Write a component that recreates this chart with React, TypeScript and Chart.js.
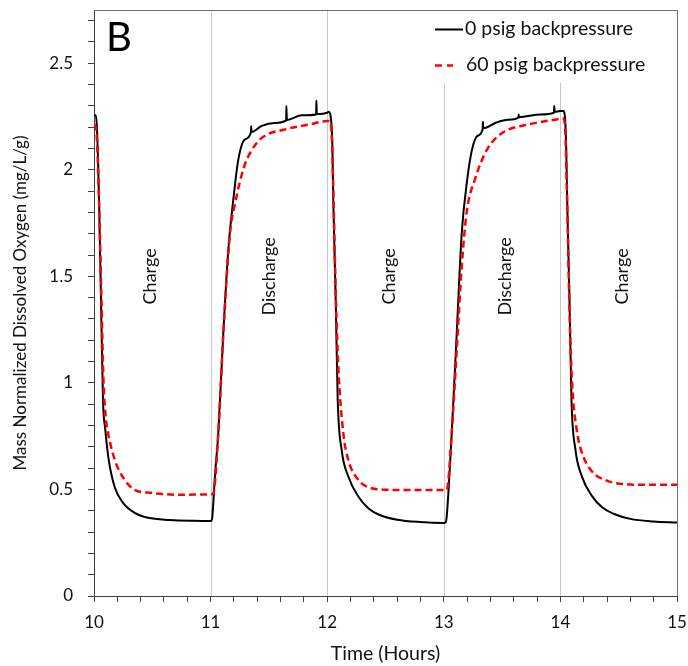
import React, { useEffect, useRef } from "react";
import { Chart, registerables } from "chart.js";

Chart.register(...registerables);

// ---- Data ----
const blackTime = [
  10.0, 10.015, 10.026, 10.043, 10.06, 10.077, 10.097, 10.126, 10.178, 10.249, 10.349, 10.463, 10.65, 10.85, 11.006,
  11.015, 11.038, 11.066, 11.109, 11.152, 11.195, 11.238, 11.295, 11.346, 11.348, 11.352, 11.438, 11.55, 11.648, 11.65, 11.654,
  11.781, 11.905, 11.907, 11.911, 12.0, 12.012,
  12.03, 12.045, 12.052, 12.073, 12.09, 12.124, 12.181, 12.267, 12.352, 12.45, 12.6, 12.8, 13.0, 13.015,
  13.025, 13.068, 13.111, 13.154, 13.2, 13.24, 13.29, 13.333, 13.335, 13.339, 13.45, 13.55, 13.64, 13.642, 13.645,
  13.83, 13.945, 13.947, 13.951, 14.0, 14.025,
  14.04, 14.05, 14.058, 14.078, 14.095, 14.128, 14.185, 14.27, 14.36, 14.46, 14.6, 14.8, 15.0,
];
const blackDO = [
  2.256, 2.256, 2.19, 1.86, 1.39, 0.92, 0.78, 0.64, 0.51, 0.437, 0.39, 0.367, 0.357, 0.353, 0.352,
  0.373, 0.57, 0.764, 1.234, 1.626, 1.861, 2.049, 2.143, 2.176, 2.205, 2.178, 2.206, 2.22, 2.232, 2.3, 2.234,
  2.256, 2.26, 2.325, 2.262, 2.268, 2.272,
  2.25, 2.1, 1.861, 1.391, 0.921, 0.686, 0.561, 0.467, 0.412, 0.38, 0.358, 0.347, 0.343, 0.345,
  0.373, 0.765, 1.234, 1.704, 1.95, 2.09, 2.16, 2.19, 2.225, 2.195, 2.222, 2.235, 2.245, 2.26, 2.247,
  2.26, 2.268, 2.3, 2.272, 2.276, 2.276,
  2.24, 2.1, 1.86, 1.39, 0.92, 0.69, 0.56, 0.47, 0.415, 0.385, 0.362, 0.35, 0.345,
];
const redTime = [
  10.0, 10.017, 10.043, 10.064, 10.081, 10.103, 10.12, 10.178, 10.263, 10.349, 10.489, 10.74, 11.0,
  11.022, 11.066, 11.109, 11.166, 11.209, 11.285, 11.35, 11.44, 11.64, 11.84, 12.009, 12.024,
  12.04, 12.055, 12.075, 12.095, 12.138, 12.181, 12.267, 12.381, 12.553, 13.0,
  13.025, 13.068, 13.111, 13.154, 13.196, 13.27, 13.33, 13.4, 13.52, 13.7, 13.95, 14.025,
  14.04, 14.058, 14.08, 14.1, 14.14, 14.18, 14.27, 14.38, 14.55, 14.75, 15.0,
];
const redDO = [
  2.213, 2.199, 1.86, 1.39, 1.015, 0.827, 0.766, 0.639, 0.545, 0.498, 0.484, 0.475, 0.477,
  0.479, 0.764, 1.23, 1.7, 1.84, 2.01, 2.09, 2.15, 2.19, 2.212, 2.229, 2.229,
  2.15, 1.85, 1.39, 1.078, 0.765, 0.639, 0.545, 0.506, 0.498, 0.497,
  0.498, 0.765, 1.156, 1.547, 1.8, 1.96, 2.05, 2.12, 2.18, 2.21, 2.235, 2.24,
  2.2, 1.85, 1.3, 1.0, 0.78, 0.68, 0.585, 0.545, 0.525, 0.522, 0.522,
];

const seriesNames = ["0 psig backpressure", "60 psig backpressure"];
const dividerX = [11, 12, 13, 14];
const phaseLabels = ["Charge", "Discharge", "Charge", "Discharge", "Charge"];
const phaseLabelX = [10.48, 11.5, 12.53, 13.53, 14.53];
const phaseLabelY = 1.5;
const xTickLabels = [10, 11, 12, 13, 14, 15];
const yTickLabels = [0, 0.5, 1, 1.5, 2, 2.5];
const panelLetter = "B";
const xTitle = "Time (Hours)";
const yTitle = "Mass Normalized Dissolved Oxygen (mg/L/g)";

const FONT = "Lato, 'Open Sans', sans-serif";

const overlayPlugin = {
  id: "overlay",
  beforeDatasetsDraw(chart: any) {
    const { ctx, chartArea, scales } = chart;
    const x = scales.x;
    const y = scales.y;
    ctx.save();
    ctx.strokeStyle = "#c8c8c8";
    ctx.lineWidth = 1;
    dividerX.forEach((v) => {
      const px = Math.round(x.getPixelForValue(v)) + 0.5;
      ctx.beginPath();
      ctx.moveTo(px, chartArea.top);
      ctx.lineTo(px, chartArea.bottom);
      ctx.stroke();
    });
    ctx.fillStyle = "#111";
    ctx.font = `18px ${FONT}`;
    ctx.textAlign = "center";
    ctx.textBaseline = "middle";
    phaseLabels.forEach((t, i) => {
      ctx.save();
      ctx.translate(x.getPixelForValue(phaseLabelX[i]), y.getPixelForValue(phaseLabelY));
      ctx.rotate(-Math.PI / 2);
      ctx.fillText(t, 0, 0);
      ctx.restore();
    });
    ctx.restore();
  },
  afterDatasetsDraw(chart: any) {
    const { ctx, chartArea } = chart;
    const { top, right, left, bottom } = chartArea;
    ctx.save();
    // legend box (white background)
    ctx.fillStyle = "#fff";
    ctx.fillRect(right - 255, top + 1, 254, 72);
    ctx.font = `19.5px ${FONT}`;
    ctx.textAlign = "left";
    ctx.textBaseline = "middle";
    // row 1
    ctx.strokeStyle = "#000";
    ctx.lineWidth = 2;
    ctx.beginPath();
    ctx.moveTo(right - 242, top + 19.5);
    ctx.lineTo(right - 214, top + 19.5);
    ctx.stroke();
    ctx.fillStyle = "#111";
    ctx.fillText(seriesNames[0], right - 212, top + 19);
    // row 2
    ctx.strokeStyle = "#ff0000";
    ctx.lineWidth = 2.5;
    ctx.beginPath();
    ctx.moveTo(right - 242, top + 55.5);
    ctx.lineTo(right - 235, top + 55.5);
    ctx.moveTo(right - 230, top + 55.5);
    ctx.lineTo(right - 224, top + 55.5);
    ctx.stroke();
    ctx.fillText(seriesNames[1], right - 211, top + 55);
    // panel letter
    ctx.font = `40px ${FONT}`;
    ctx.textBaseline = "alphabetic";
    ctx.fillStyle = "#000";
    ctx.fillText(panelLetter, left + 12, top + 41);
    // top / right frame
    ctx.strokeStyle = "#6e6e6e";
    ctx.lineWidth = 1;
    ctx.beginPath();
    ctx.moveTo(left, Math.round(top) + 0.5);
    ctx.lineTo(Math.round(right) + 0.5, Math.round(top) + 0.5);
    ctx.lineTo(Math.round(right) + 0.5, bottom);
    ctx.stroke();
    ctx.restore();
  },
};

const isNear = (v: number, list: number[]) => list.some((t) => Math.abs(t - v) < 1e-6);

const zeroPad = (scale: any) => {
  scale.paddingTop = 0;
  scale.paddingBottom = 0;
  scale.paddingLeft = 0;
  scale.paddingRight = 0;
};

export default function App() {
  const ref = useRef<HTMLCanvasElement | null>(null);
  useEffect(() => {
    if (!ref.current) return;
    const blackPts = blackTime.map((t, i) => ({ x: t, y: blackDO[i] }));
    const redPts = redTime.map((t, i) => ({ x: t, y: redDO[i] }));
    const chart = new Chart(ref.current, {
      type: "line",
      data: {
        datasets: [
          {
            label: seriesNames[1],
            data: redPts,
            borderColor: "#ff0000",
            borderWidth: 2.5,
            borderDash: [7, 4],
            pointRadius: 0,
            cubicInterpolationMode: "monotone",
            fill: false,
          },
          {
            label: seriesNames[0],
            data: blackPts,
            borderColor: "#000000",
            borderWidth: 2,
            pointRadius: 0,
            cubicInterpolationMode: "monotone",
            fill: false,
          },
        ],
      },
      options: {
        animation: false,
        responsive: false,
        events: [],
        layout: { padding: { top: 10, right: 11, bottom: 0, left: 0 } },
        plugins: {
          legend: { display: false },
          tooltip: { enabled: false },
        },
        scales: {
          x: {
            type: "linear",
            min: 10,
            max: 15,
            afterFit(scale: any) {
              scale.height = 70;
              zeroPad(scale);
            },
            ticks: {
              stepSize: 0.2,
              autoSkip: false,
              maxRotation: 0,
              padding: 10,
              color: "#111",
              font: { family: FONT, size: 17 },
              callback: (v: any) => (isNear(Number(v), xTickLabels) ? String(Math.round(Number(v))) : ""),
            },
            grid: { drawOnChartArea: false, drawTicks: true, tickLength: 6, color: "#404040", tickColor: "#404040" },
            border: { display: true, color: "#404040", width: 1 },
            title: {
              display: true,
              text: xTitle,
              color: "#111",
              font: { family: FONT, size: 19.5 },
              padding: { top: 0, bottom: 1 },
            },
          },
          y: {
            type: "linear",
            min: 0,
            max: 2.75,
            afterFit(scale: any) {
              scale.width = 94;
              zeroPad(scale);
            },
            ticks: {
              stepSize: 0.1,
              includeBounds: false,
              autoSkip: false,
              padding: 15,
              color: "#111",
              font: { family: FONT, size: 17 },
              callback: (v: any) => {
                const n = Number(v);
                if (!isNear(n, yTickLabels)) return "";
                return String(Math.round(n * 10) / 10);
              },
            },
            grid: { drawOnChartArea: false, drawTicks: true, tickLength: 6, color: "#404040", tickColor: "#404040" },
            border: { display: true, color: "#404040", width: 1 },
            title: {
              display: true,
              text: yTitle,
              color: "#111",
              font: { family: FONT, size: 17 },
              padding: { top: 10, bottom: 0 },
            },
          },
        },
      },
      plugins: [overlayPlugin],
    } as any);
    return () => chart.destroy();
  }, []);
  return (
    <div style={{ position: "absolute", left: 0, top: 0, width: 688, height: 666 }}>
      <canvas ref={ref} width={688} height={666} style={{ display: "block" }} />
    </div>
  );
}
